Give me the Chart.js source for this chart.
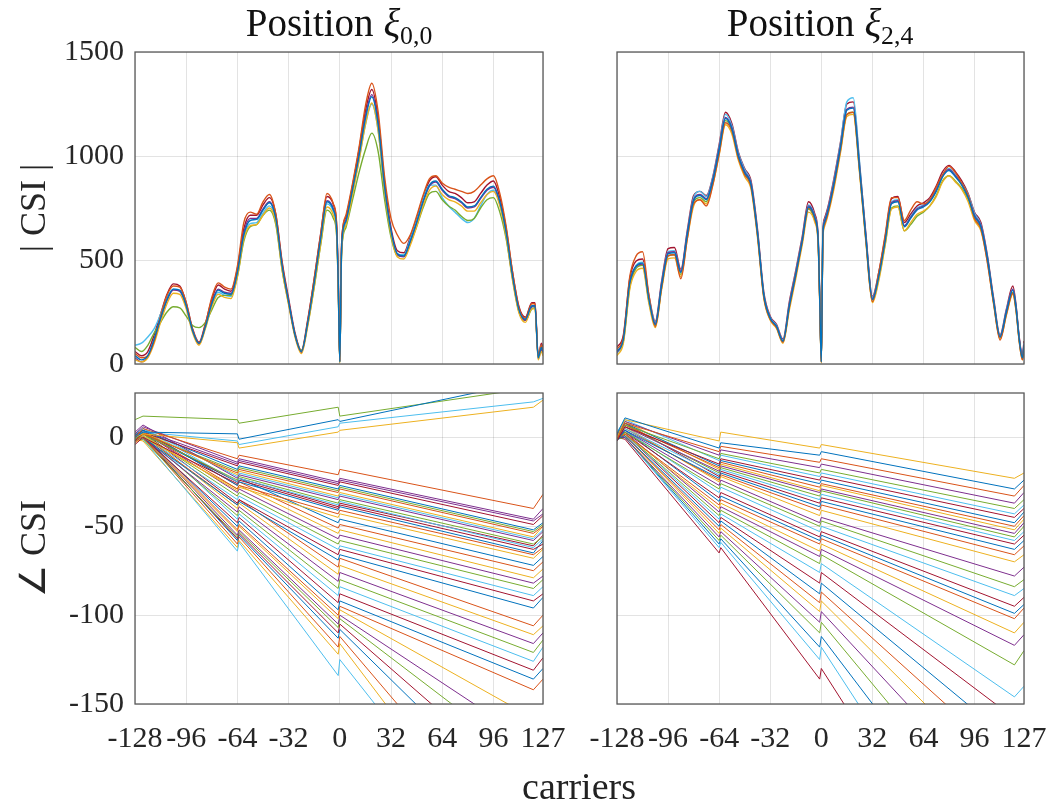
<!DOCTYPE html>
<html>
<head>
<meta charset="utf-8">
<script src="https://cdn.jsdelivr.net/npm/chart.js@4.4.1/dist/chart.umd.min.js"></script>
<style>
  body { margin: 0; background: #fff; }
  #wrap { position: relative; width: 1058px; height: 805px; background: #fff; overflow: hidden; }
  canvas { position: absolute; left: 0; top: 0; }
  .ttl { position: absolute; top: 0px; width: 400px; text-align: center;
         font-family: 'Liberation Serif', serif; font-size: 39px; color: #111; }
  .ttl sub { font-size: 0.66em; vertical-align: -0.3em; }
  #xlab { position: absolute; left: 429px; top: 764px; width: 300px; text-align: center;
          font-family: 'Liberation Serif', serif; font-size: 38px; color: #222; }
</style>
</head>
<body>
<div id="wrap">
  <canvas id="magL" width="1058" height="805"></canvas>
  <canvas id="magR" width="1058" height="805"></canvas>
  <canvas id="phL" width="1058" height="805"></canvas>
  <canvas id="phR" width="1058" height="805"></canvas>
  <div class="ttl" style="left:139px">Position <i>ξ</i><sub>0,0</sub></div>
  <div class="ttl" style="left:620px">Position <i>ξ</i><sub>2,4</sub></div>
  <div id="xlab">carriers</div>
</div>
<script>
// matlab default line colours
const COLORS = ['#0072BD', '#D95319', '#EDB120', '#7E2F8E', '#77AC30', '#4DBEEE', '#A2142F'];

const X_TICKS = [-128, -96, -64, -32, 0, 32, 64, 96, 127];
const MAG_TICKS = [0, 500, 1000, 1500];
const PHASE_TICKS = [-150, -100, -50, 0];

const MAG_CARRIERS = [
  -128, -124, -120, -116, -112, -108, -104, -100, -96, -92,
  -88, -84, -80, -76, -72, -68, -64, -60, -56, -52,
  -48, -44, -40, -36, -32, -28, -24, -20, -16, -12,
  -8, -4, -2, -1, 0, 1, 2, 4, 8, 12,
  16, 20, 24, 28, 32, 36, 40, 44, 48, 52,
  56, 60, 64, 68, 72, 76, 80, 84, 88, 92,
  96, 100, 104, 108, 112, 116, 120, 122, 124, 126,
  127
];

// |CSI| at position xi_0,0
const magPos00 = [
  [40,20,40,120,220,310,360,355,280,160, 100,180,290,355,340,335,440,620,690,695,
   740,775,700,470,300,140,60,200,390,600, 780,740,650,400,10,520,640,690,840,1000,
   1180,1285,1150,850,640,530,520,590,680,780, 860,880,840,810,800,780,755,760,800,840,
   855,780,630,420,260,215,280,280,30,80, 60],
  [50,30,40,110,230,330,375,370,295,165, 100,190,320,390,370,360,470,680,730,720,
   780,815,720,480,300,140,60,210,410,620, 820,770,680,420,15,540,660,720,870,1040,
   1240,1350,1210,900,700,620,580,620,710,810, 890,905,870,850,840,830,820,830,860,890,
   905,820,660,440,270,220,290,290,35,90, 70],
  [20,10,30,100,200,290,340,335,265,150, 90,170,275,335,320,315,420,600,665,670,
   715,750,680,450,285,130,50,185,370,575, 755,715,625,380,5,500,620,670,815,975,
   1150,1255,1120,830,625,515,505,570,660,760, 835,855,815,790,780,760,735,735,775,815,
   830,760,610,400,245,200,265,265,20,60, 40],
  [30,10,35,115,215,305,355,350,280,160, 95,180,295,360,345,340,445,630,700,700,
   745,780,700,470,300,140,55,200,395,605, 785,745,655,405,10,525,645,695,845,1005,
   1190,1295,1160,855,640,525,515,585,675,775, 855,875,835,805,795,775,750,755,795,835,
   850,775,625,415,255,210,275,280,25,70, 50],
  [80,60,90,150,200,250,275,270,230,185, 175,200,260,320,330,330,420,590,660,670,
   715,740,670,450,290,140,65,190,370,570, 740,700,620,380,10,500,610,660,790,920,
   1030,1110,1020,790,610,520,520,580,660,750, 820,830,790,760,740,710,690,700,750,790,
   800,730,600,410,250,210,265,270,40,70, 60],
  [90,100,130,170,240,320,360,350,275,160, 100,175,280,345,330,325,430,610,675,680,
   725,760,690,460,295,135,60,195,380,590, 770,730,640,390,10,510,630,680,825,980,
   1150,1250,1120,830,630,530,525,600,690,790, 860,860,800,760,730,700,680,700,760,815,
   835,770,620,410,255,210,275,275,30,90, 60],
  [60,40,60,140,240,335,385,375,295,170, 105,195,310,380,360,350,460,650,715,715,
   765,800,720,490,315,150,65,215,410,625, 805,765,670,420,20,540,660,710,860,1030,
   1215,1320,1180,870,655,545,535,610,700,800, 880,900,860,830,820,800,775,780,820,860,
   880,800,650,440,275,225,295,295,40,100, 80]
];

// |CSI| at position xi_2,4
const magPos24 = [
  [60,120,390,470,485,310,190,380,530,535, 440,620,785,810,790,880,1030,1180,1130,1000,
   920,860,630,330,220,180,110,280,430,590, 755,700,600,320,10,620,680,730,870,1040,
   1220,1230,940,600,310,420,590,770,780,660, 700,740,755,780,830,900,930,900,860,800,
   710,660,510,300,130,250,355,270,120,30, 90],
  [70,130,420,520,540,330,180,370,520,525, 410,600,770,790,760,860,1010,1160,1120,990,
   910,850,620,320,215,175,105,275,425,585, 750,695,590,310,10,610,670,720,860,1030,
   1200,1210,930,590,300,440,620,800,800,690, 740,780,770,790,850,910,950,920,870,810,
   700,650,490,290,115,240,340,260,110,20, 80],
  [40,100,360,445,460,290,175,360,505,510, 420,600,760,790,770,860,1005,1150,1105,980,
   900,840,610,315,210,170,100,260,410,570, 730,680,580,300,5,600,660,710,845,1015,
   1190,1200,915,580,295,400,570,745,755,640, 680,720,735,760,805,875,905,875,840,780,
   690,640,495,285,120,235,335,255,110,20, 70],
  [55,120,385,470,480,305,195,385,535,540, 445,625,790,815,795,885,1035,1185,1135,1005,
   925,865,635,330,220,180,110,285,435,595, 760,705,605,320,10,625,685,735,875,1045,
   1225,1235,945,605,315,425,595,775,785,665, 705,745,760,785,835,905,935,905,865,805,
   715,665,515,300,130,255,360,275,125,35, 95],
  [60,110,370,460,475,300,185,370,520,525, 430,610,780,800,780,870,1020,1170,1125,995,
   915,855,625,325,215,175,105,275,425,585, 745,690,595,310,10,615,675,725,860,1025,
   1200,1210,925,590,300,410,575,750,760,640, 670,710,730,760,810,880,905,880,845,790,
   700,650,505,295,125,245,345,265,115,25, 85],
  [50,110,380,475,490,320,200,390,540,545, 445,630,800,830,805,895,1045,1200,1145,1015,
   935,870,640,335,225,185,115,290,440,600, 765,710,610,330,15,630,690,740,885,1060,
   1260,1280,970,610,320,430,600,780,790,665, 710,750,765,790,840,910,940,910,870,815,
   725,670,520,305,135,260,360,280,120,30, 100],
  [80,140,410,495,505,330,205,400,555,560, 455,640,810,830,810,900,1055,1210,1155,1020,
   940,880,650,345,230,190,120,300,450,610, 780,720,620,340,20,640,700,750,895,1065,
   1250,1260,960,620,325,440,610,795,805,680, 720,760,775,800,855,925,955,925,880,820,
   730,680,525,315,140,265,375,285,130,40, 110]
];

const PHASE_CARRIERS = [-128, -123, -64, -63, -1, 0, 121, 127];

// angle CSI at position xi_0,0
const phasePos00 = [
  [0, 3, 2, -1, 10, 9, 32, 31],
  [0, 5, -12, -10, -21, -18, -40, -32],
  [0, 2, -3, -6, 3, 4, 17, 21],
  [2, 6, -14, -12, -25, -23, -46, -40],
  [10, 12, 10, 8, 17, 12, 28, 27],
  [0, 3, -2, -4, 6, 8, 20, 22],
  [-2, 3, -16, -14, -27, -25, -49, -44],
  [1, 4, -18, -16, -29, -27, -52, -48],
  [-3, 2, -20, -18, -31, -29, -54, -50],
  [0, 3, -21, -19, -33, -31, -56, -50],
  [3, 7, -23, -21, -35, -33, -58, -53],
  [-1, 2, -24, -22, -37, -35, -60, -56],
  [2, 5, -25, -23, -38, -36, -62, -57],
  [-4, 0, -26, -24, -40, -38, -63, -60],
  [1, 4, -27, -25, -41, -39, -65, -58],
  [0, 3, -29, -27, -43, -41, -66, -62],
  [-2, 1, -30, -28, -45, -43, -68, -63],
  [1, 4, -15, -13, -26, -24, -47, -43],
  [-1, 2, -19, -17, -30, -28, -53, -49],
  [2, 5, -22, -20, -34, -32, -57, -52],
  [0, 3, -25, -23, -39, -37, -61, -55],
  [0, 2, -25, -23, -48, -46, -72, -67],
  [2, 4, -27, -25, -51, -49, -75, -70],
  [-3, 0, -29, -27, -54, -52, -79, -74],
  [1, 3, -31, -29, -57, -55, -82, -78],
  [0, 2, -33, -31, -60, -58, -85, -80],
  [-1, 1, -35, -33, -63, -61, -89, -84],
  [2, 3, -37, -35, -66, -63, -92, -88],
  [-2, 0, -38, -36, -69, -66, -96, -90],
  [0, 1, -38, -35, -73, -68, -106, -100],
  [1, 2, -40, -37, -77, -72, -111, -106],
  [-2, 0, -42, -39, -81, -76, -116, -110],
  [0, 1, -44, -41, -85, -80, -121, -114],
  [2, 3, -46, -43, -89, -84, -126, -118],
  [-1, 0, -48, -45, -93, -88, -131, -124],
  [0, 1, -50, -47, -97, -92, -136, -130],
  [1, 1, -52, -49, -100, -95, -142, -136],
  [0, 0, -53, -50, -102, -97, -158, -152],
  [1, 1, -55, -52, -105, -100, -172, -166],
  [-1, -1, -56, -53, -107, -102, -185, -180],
  [0, -1, -64, -59, -134, -125, -263, -258],
  [0, 0, -57, -54, -110, -105, -200, -195],
  [2, 1, -58, -55, -113, -108, -215, -210],
  [0, 0, -60, -56, -118, -112, -240, -235],
  [-1, -2, -62, -58, -122, -116, -260, -255]
];

// angle CSI at position xi_2,4
const phasePos24 = [
  [2, 11, -6, -3, -10, -8, -29, -24],
  [-1, 8, -8, -5, -14, -12, -33, -27],
  [0, 10, -2, 3, -6, -4, -23, -20],
  [1, 9, -10, -7, -17, -15, -37, -31],
  [0, 7, -12, -9, -20, -18, -40, -35],
  [3, 10, -13, -10, -22, -20, -43, -38],
  [-2, 6, -15, -12, -24, -22, -45, -40],
  [1, 8, -16, -13, -26, -24, -48, -42],
  [0, 7, -17, -14, -28, -26, -50, -44],
  [2, 9, -18, -15, -30, -27, -52, -46],
  [-1, 6, -19, -16, -31, -29, -54, -48],
  [1, 7, -20, -17, -33, -30, -56, -50],
  [0, 5, -21, -18, -35, -32, -58, -53],
  [2, 8, -22, -19, -37, -34, -60, -55],
  [-2, 4, -23, -20, -39, -36, -63, -58],
  [0, 5, -24, -21, -41, -38, -66, -61],
  [1, 6, -25, -22, -44, -41, -70, -66],
  [0, 4, -27, -24, -48, -45, -78, -73],
  [-1, 3, -29, -26, -50, -47, -84, -80],
  [1, 4, -31, -28, -53, -50, -89, -85],
  [0, 3, -34, -31, -56, -53, -95, -90],
  [2, 4, -36, -33, -58, -55, -99, -94],
  [-1, 2, -38, -35, -60, -57, -102, -96],
  [0, 2, -40, -37, -64, -60, -110, -104],
  [1, 3, -42, -39, -67, -63, -117, -111],
  [0, 2, -44, -41, -71, -66, -128, -120],
  [0, 2, -46, -43, -76, -71, -146, -140],
  [1, 2, -48, -45, -82, -76, -158, -152],
  [-1, 1, -50, -47, -88, -82, -172, -166],
  [0, 1, -52, -49, -93, -87, -185, -180],
  [1, 1, -54, -51, -98, -92, -200, -195],
  [0, 0, -56, -53, -104, -98, -215, -210],
  [-1, 0, -58, -55, -110, -104, -235, -230],
  [1, 0, -62, -59, -125, -118, -285, -280],
  [0, -1, -65, -62, -136, -130, -300, -295],
  [0, 0, -60, -57, -118, -112, -255, -250]
];

Chart.defaults.font.family = "'Liberation Serif', serif";
Chart.defaults.color = '#262626';

const boxPlugin = {
  id: 'box',
  afterDraw(chart) {
    const a = chart.chartArea;
    const ctx = chart.ctx;
    ctx.save();
    ctx.strokeStyle = '#5a5a5a';
    ctx.lineWidth = 1.3;
    ctx.strokeRect(a.left, a.top, a.right - a.left, a.bottom - a.top);
    ctx.restore();
  }
};

function makePanel(id, opt) {
  const datasets = opt.series.map((vals, i) => ({
    data: vals.map((v, j) => ({ x: opt.carriers[j], y: v })),
    borderColor: COLORS[i % COLORS.length],
    borderWidth: opt.smooth ? 1.4 : 1,
    pointRadius: 0,
    fill: false,
    tension: 0,
    cubicInterpolationMode: opt.smooth ? 'monotone' : 'default'
  }));

  return new Chart(document.getElementById(id), {
    type: 'line',
    data: { datasets },
    plugins: [boxPlugin],
    options: {
      responsive: false,
      animation: false,
      events: [],
      layout: { padding: opt.padding },
      plugins: { legend: { display: false }, tooltip: { enabled: false } },
      scales: {
        x: {
          type: 'linear',
          min: -128,
          max: 127,
          afterBuildTicks: (s) => { s.ticks = X_TICKS.map((v) => ({ value: v })); },
          afterFit: (s) => {
            s.height = opt.showX ? 60 : 0;
            // keep the plot box fixed, edge labels may overhang
            s.paddingLeft = 0;
            s.paddingRight = 0;
          },
          grid: { color: 'rgba(0,0,0,0.11)', drawTicks: false },
          border: { display: false },
          ticks: {
            display: opt.showX,
            padding: 17,
            maxRotation: 0,
            autoSkip: false,
            font: { size: 30 },
            callback: (v) => String(v)
          }
        },
        y: {
          min: opt.yMin,
          max: opt.yMax,
          afterBuildTicks: (s) => { s.ticks = opt.yTicks.map((v) => ({ value: v })); },
          afterFit: (s) => {
            s.width = opt.showY ? 135 : 0;
            s.paddingTop = 0;
            s.paddingBottom = 0;
          },
          grid: { color: 'rgba(0,0,0,0.11)', drawTicks: false },
          border: { display: false },
          title: {
            display: opt.showY,
            text: opt.yTitle,
            font: { size: 36 },
            padding: { top: 14, bottom: 0 }
          },
          ticks: {
            display: opt.showY,
            padding: 11,
            autoSkip: false,
            font: { size: 30 },
            callback: (v) => String(v)
          }
        }
      }
    }
  });
}

makePanel('magL', {
  series: magPos00, carriers: MAG_CARRIERS, smooth: true,
  yMin: 0, yMax: 1500, yTicks: MAG_TICKS, yTitle: '| CSI |',
  showX: false, showY: true,
  padding: { left: 0, top: 52, right: 515, bottom: 441 }
});
makePanel('magR', {
  series: magPos24, carriers: MAG_CARRIERS, smooth: true,
  yMin: 0, yMax: 1500, yTicks: MAG_TICKS, yTitle: '',
  showX: false, showY: false,
  padding: { left: 617, top: 52, right: 34, bottom: 441 }
});
makePanel('phL', {
  series: phasePos00, carriers: PHASE_CARRIERS, smooth: false,
  yMin: -150, yMax: 25, yTicks: PHASE_TICKS, yTitle: '∠ CSI',
  showX: true, showY: true,
  padding: { left: 0, top: 393, right: 515, bottom: 41 }
});
makePanel('phR', {
  series: phasePos24, carriers: PHASE_CARRIERS, smooth: false,
  yMin: -150, yMax: 25, yTicks: PHASE_TICKS, yTitle: '',
  showX: true, showY: false,
  padding: { left: 617, top: 393, right: 34, bottom: 41 }
});
</script>
</body>
</html>
